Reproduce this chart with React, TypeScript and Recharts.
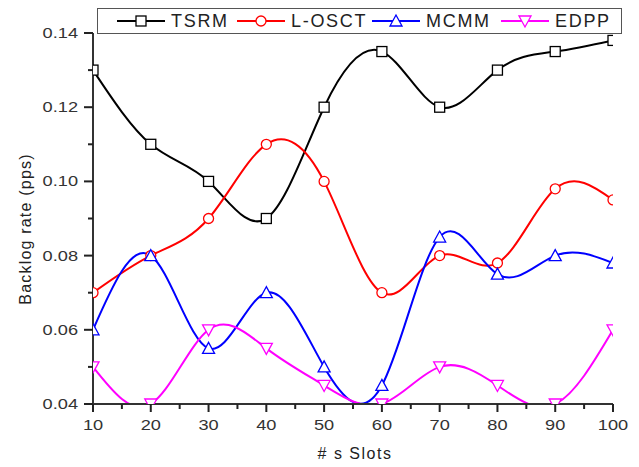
import { LineChart, Line, XAxis, YAxis } from "recharts";

const slots = [10, 20, 30, 40, 50, 60, 70, 80, 90, 100];
const tsrm = [0.13, 0.11, 0.1, 0.09, 0.12, 0.135, 0.12, 0.13, 0.135, 0.138];
const losct = [0.07, 0.08, 0.09, 0.11, 0.1, 0.07, 0.08, 0.078, 0.098, 0.095];
const mcmm = [0.06, 0.08, 0.055, 0.07, 0.05, 0.045, 0.085, 0.075, 0.08, 0.078];
const edpp = [0.05, 0.04, 0.06, 0.055, 0.045, 0.04, 0.05, 0.045, 0.04, 0.06];

const xTicks = [10, 15, 20, 25, 30, 35, 40, 45, 50, 55, 60, 65, 70, 75, 80, 85, 90, 95, 100];
const yTicks = [0.04, 0.05, 0.06, 0.07, 0.08, 0.09, 0.1, 0.11, 0.12, 0.13, 0.14];

const data = slots.map((s, i) => ({
  slot: s,
  TSRM: tsrm[i],
  "L-OSCT": losct[i],
  MCMM: mcmm[i],
  EDPP: edpp[i],
}));

const FONT = "Arial, 'Liberation Sans', sans-serif";
const AXIS = "#333";

const series = [
  { key: "TSRM", color: "#000000", shape: "square", left: 117 },
  { key: "L-OSCT", color: "#ff0000", shape: "circle", left: 237 },
  { key: "MCMM", color: "#0000ff", shape: "up", left: 372 },
  { key: "EDPP", color: "#ff00ff", shape: "down", left: 501 },
];

function Marker({ shape, color, cx, cy }: any) {
  if (cx == null || cy == null) return null;
  const p = { fill: "#fff", stroke: color, strokeWidth: 1.3 };
  if (shape === "square") return <rect x={cx - 5} y={cy - 5} width={10} height={10} {...p} />;
  if (shape === "circle") return <circle cx={cx} cy={cy} r={5} {...p} />;
  if (shape === "up")
    return <polygon points={`${cx},${cy - 6} ${cx - 6},${cy + 5} ${cx + 6},${cy + 5}`} {...p} />;
  return <polygon points={`${cx},${cy + 6} ${cx - 6},${cy - 5} ${cx + 6},${cy - 5}`} {...p} />;
}

const XTick = (props: any) => {
  const { x, y, payload } = props;
  const major = payload.value % 10 === 0;
  return (
    <g>
      <rect x={x - 1} y={y} width={2} height={major ? 8 : 5} fill="#222" stroke="none" />
      {major ? (
        <text
          transform={`translate(${x},${y + 26}) scale(1.3,1)`}
          textAnchor="middle"
          fontSize={14}
          fontFamily={FONT}
          fill={AXIS}
        >
          {payload.value}
        </text>
      ) : null}
    </g>
  );
};

const YTick = (props: any) => {
  const { x, y, payload } = props;
  const major = Math.round(payload.value * 100) % 2 === 0;
  const len = major ? 9 : 5;
  return (
    <g>
      <rect x={x - len} y={y - 1} width={len} height={2} fill="#222" stroke="none" />
      {major ? (
        <text
          transform={`translate(${x - 15},${y + 5}) scale(1.3,1)`}
          textAnchor="end"
          fontSize={14}
          fontFamily={FONT}
          fill={AXIS}
        >
          {payload.value.toFixed(2)}
        </text>
      ) : null}
    </g>
  );
};

function LegendBox() {
  return (
    <div style={{ position: "absolute", left: 0, top: 0 }}>
      <div
        style={{
          position: "absolute",
          left: 97,
          top: 8,
          width: 525,
          height: 26,
          border: "1.5px solid #555",
          background: "#fff",
          boxSizing: "border-box",
        }}
      />
      {series.map((s) => (
        <div
          key={s.key}
          style={{
            position: "absolute",
            left: s.left,
            top: 11,
            height: 20,
            display: "flex",
            alignItems: "center",
            whiteSpace: "nowrap",
            fontFamily: FONT,
            fontSize: 18,
            letterSpacing: 1.7,
            color: "#222",
          }}
        >
          <svg width={48} height={20} style={{ display: "block" }}>
            <line x1={0} x2={48} y1={10} y2={10} stroke={s.color} strokeWidth={2} />
            <Marker shape={s.shape} color={s.color} cx={24} cy={10} />
          </svg>
          <span style={{ marginLeft: 6 }}>{s.key}</span>
        </div>
      ))}
    </div>
  );
}

function AxisTitles() {
  return (
    <svg width={639} height={467} style={{ position: "absolute", left: 0, top: 0, pointerEvents: "none" }}>
      <text x={355} y={459} textAnchor="middle" fontSize={16} letterSpacing={1.5} fontFamily={FONT} fill="#222">
        # s Slots
      </text>
      <text
        x={25}
        y={229}
        transform="rotate(-90 25 229)"
        textAnchor="middle"
        dominantBaseline="central"
        fontSize={16}
        letterSpacing={1.2}
        fontFamily={FONT}
        fill="#222"
      >
        Backlog rate (pps)
      </text>
    </svg>
  );
}

export default function App() {
  return (
    <div style={{ position: "absolute", left: 0, top: 0, width: 639, height: 467, background: "#fff" }}>
      <LineChart
        width={639}
        height={467}
        data={data}
        margin={{ top: 33, right: 26, bottom: 0, left: 0 }}
      >
        <XAxis
          dataKey="slot"
          type="number"
          domain={[10, 100]}
          ticks={xTicks}
          interval={0}
          allowDataOverflow
          height={63}
          tickSize={0}
          tickMargin={0}
          tickLine={false}
          tick={<XTick />}
          axisLine={{ stroke: AXIS, strokeWidth: 2 }}
        />
        <YAxis
          type="number"
          domain={[0.04, 0.14]}
          ticks={yTicks}
          interval={0}
          allowDataOverflow
          width={93}
          tickSize={0}
          tickMargin={0}
          tickLine={false}
          tick={<YTick />}
          axisLine={{ stroke: AXIS, strokeWidth: 2 }}
        />
        {series.map((s) => (
          <Line
            key={s.key}
            dataKey={s.key}
            type="natural"
            stroke={s.color}
            strokeWidth={2}
            isAnimationActive={false}
            dot={(props: any) => (
              <Marker key={`${s.key}-${props.index}`} shape={s.shape} color={s.color} cx={props.cx} cy={props.cy} />
            )}
            activeDot={false}
          />
        ))}
      </LineChart>
      <AxisTitles />
      <LegendBox />
    </div>
  );
}
